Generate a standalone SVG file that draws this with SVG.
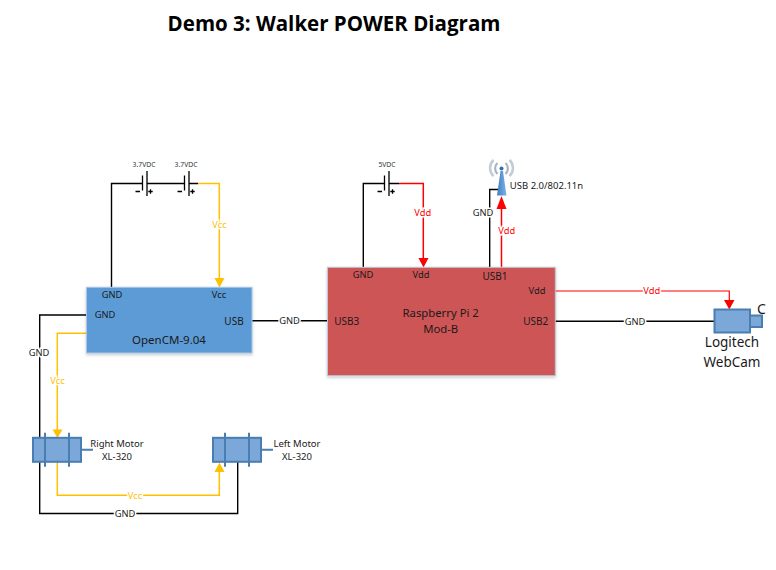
<svg xmlns="http://www.w3.org/2000/svg" width="776" height="570" viewBox="0 0 776 570">
<style>
text{font-family:"Noto Sans","Open Sans","Liberation Sans",sans-serif;font-size:9.3px;fill:#1a1a1a;text-anchor:middle}
.w{fill:none;stroke-linejoin:miter}
.k{stroke:#000;stroke-width:1.4}
.y{stroke:#ffc000;stroke-width:1.5}
.r{stroke:#ff0000;stroke-width:1.5}
.v{fill:#ffc000}.d{fill:#ff0000}
.lbl{stroke:#fff;stroke-width:3;paint-order:stroke}
.ty{fill:#ffc000}.tr{fill:#ff0000}
.bat{fill:none;stroke:#000;stroke-width:1.3}
.sm{font-size:6.8px;fill:#333}
.part{fill:#7ba7d9;stroke:#4a7eb0;stroke-width:2}
.pin{stroke:#4a7eb0;stroke-width:2;fill:none}
.usb{font-size:10px}
.mot{font-size:9.5px}
.cam{font-size:13.5px}
.big{font-size:11.300px}
</style>
<defs>
<filter id="sh" x="-5%" y="-5%" width="110%" height="115%"><feDropShadow dx="0" dy="1.5" stdDeviation="1.5" flood-color="#000" flood-opacity=".22"/></filter>
<g id="cell">
<path class="bat" d="M-4 -8V7M0.5 -12.500V12.500M-11 8H-6.500M1.800 8H6.200M4 5.800V10.200"/>
</g>
<g id="motor">
<rect class="part" x="-24" y="-12" width="48" height="24"/>
<path class="pin" d="M-12 -17V17M12 -17V17M24 0H36"/>
</g>
<linearGradient id="ant" x1="0" x2="1"><stop offset="0" stop-color="#3f7fc4"/><stop offset="1" stop-color="#7fb2e4"/></linearGradient>
</defs>
<text x="334" y="31" style="font-size:20.500px;font-weight:700;fill:#000;font-family:'Open Sans','Noto Sans',sans-serif">Demo 3: Walker POWER Diagram</text>
<g id="connectors">
<path class="w k" d="M111.500 287V183.500H142.500M147 183.500H184.500M189 183.500H198"/>
<path class="w y" d="M198 183.500H219.300V279"/>
<path class="v" d="M214.500 278H224.500L219.500 287.500Z"/>
<path class="w k" d="M86 315H39.700V513.500H237.700V462"/>
<path class="w y" d="M86 333.300H57.300V431"/>
<path class="v" d="M52.500 429.500H62.500L57.500 438Z"/>
<path class="w y" d="M57.300 462V495.300H219.300V471"/>
<path class="v" d="M214.500 472H224.500L219.500 462.500Z"/>
<path class="w k" d="M252 320.800H328"/>
<path class="w k" d="M363.300 267V183.500H384.500M389 183.500H399"/>
<path class="w r" d="M399 183.500H423.300V259"/>
<path class="d" d="M418.500 258H428.500L423.500 267.500Z"/>
<path class="w k" d="M489.700 267V189.500H498"/>
<path class="w r" d="M501.500 267V208"/>
<path class="d" d="M496.500 209H506.500L501.500 196Z"/>
<path class="w r" d="M555 291H729.300V301" style="stroke-width:1.200px"/>
<path class="d" d="M724 300H734.500L729.300 309.500Z"/>
<path class="w k" d="M555 321.200H715"/>
</g>
<g id="batteries">
<use href="#cell" x="146.500" y="183.500"/>
<use href="#cell" x="188.500" y="183.500"/>
<use href="#cell" x="388.500" y="183.500"/>
<text class="sm" x="144" y="166.500">3.7VDC</text>
<text class="sm" x="186" y="166.500">3.7VDC</text>
<text class="sm" x="387" y="166.500">5VDC</text>
</g>
<g id="opencm">
<rect x="86.500" y="287.300" width="165.500" height="65.700" fill="#5b9bd5" stroke="#a9c6e6" filter="url(#sh)"/>
<text x="112" y="298">GND</text>
<text x="219" y="298">Vcc</text>
<text x="105" y="318">GND</text>
<text class="usb" x="234" y="324.500">USB</text>
<text x="169" y="344" style="font-size:11.500px">OpenCM-9.04</text>
</g>
<g id="raspberry-pi">
<rect x="327.500" y="267.300" width="227.800" height="108.400" fill="#cd5456" stroke="#bcc7d2" filter="url(#sh)"/>
<text x="363" y="278">GND</text>
<text x="421" y="278">Vdd</text>
<text class="usb" x="495" y="279.600">USB1</text>
<text x="537" y="293.500">Vdd</text>
<text class="usb" x="346.700" y="324.500">USB3</text>
<text class="usb" x="535.700" y="324.500">USB2</text>
<text class="big" x="440.700" y="317">Raspberry Pi 2</text>
<text class="big" x="440.700" y="333">Mod-B</text>
</g>
<g id="wifi">
<path d="M493.500 176a11 11 0 0 1 0-16M509.500 160a11 11 0 0 1 0 16" fill="none" stroke="#c3cbd4" stroke-width="2.500"/>
<path d="M497.500 174a7.500 7.500 0 0 1 0-11M505.500 163a7.500 7.500 0 0 1 0 11" fill="none" stroke="#aab4c0" stroke-width="2.200"/>
<path d="M500.500 171l-3.500 24.500h9.500l-3.500-24.500z" fill="url(#ant)"/>
<circle cx="501.500" cy="168.500" r="2" fill="#2e6fb0"/>
<text x="546.500" y="189" style="font-size:9.500px">USB 2.0/802.11n</text>
</g>
<g id="right-motor">
<use href="#motor" x="57" y="449.800"/>
<text class="mot" x="117" y="447">Right Motor</text>
<text class="mot" x="117" y="460">XL-320</text>
</g>
<g id="left-motor">
<use href="#motor" x="237" y="449.800"/>
<text class="mot" x="297" y="447">Left Motor</text>
<text class="mot" x="297" y="460">XL-320</text>
</g>
<g id="webcam">
<rect class="part" x="714.500" y="309.500" width="35.500" height="23"/>
<rect class="part" x="750" y="315.500" width="12" height="11.500"/>
<text x="761.500" y="314" style="font-size:14px">C</text>
<text class="cam" x="732" y="347">Logitech</text>
<text class="cam" x="732" y="367">WebCam</text>
</g>
<g id="connector-labels">
<text class="ty lbl" x="219.500" y="228.300">Vcc</text>
<text class="lbl" x="39" y="355.500">GND</text>
<text class="ty lbl" x="57.500" y="383.500">Vcc</text>
<text class="ty lbl" x="135" y="498.800">Vcc</text>
<text class="lbl" x="125" y="516.800">GND</text>
<text class="lbl" x="289.500" y="324.300">GND</text>
<text class="tr lbl" x="422.700" y="216">Vdd</text>
<text class="lbl" x="483" y="216">GND</text>
<text class="tr lbl" x="506.700" y="234">Vdd</text>
<text class="tr lbl" x="651.700" y="294.300">Vdd</text>
<text class="lbl" x="635" y="324.500">GND</text>
</g>
</svg>
